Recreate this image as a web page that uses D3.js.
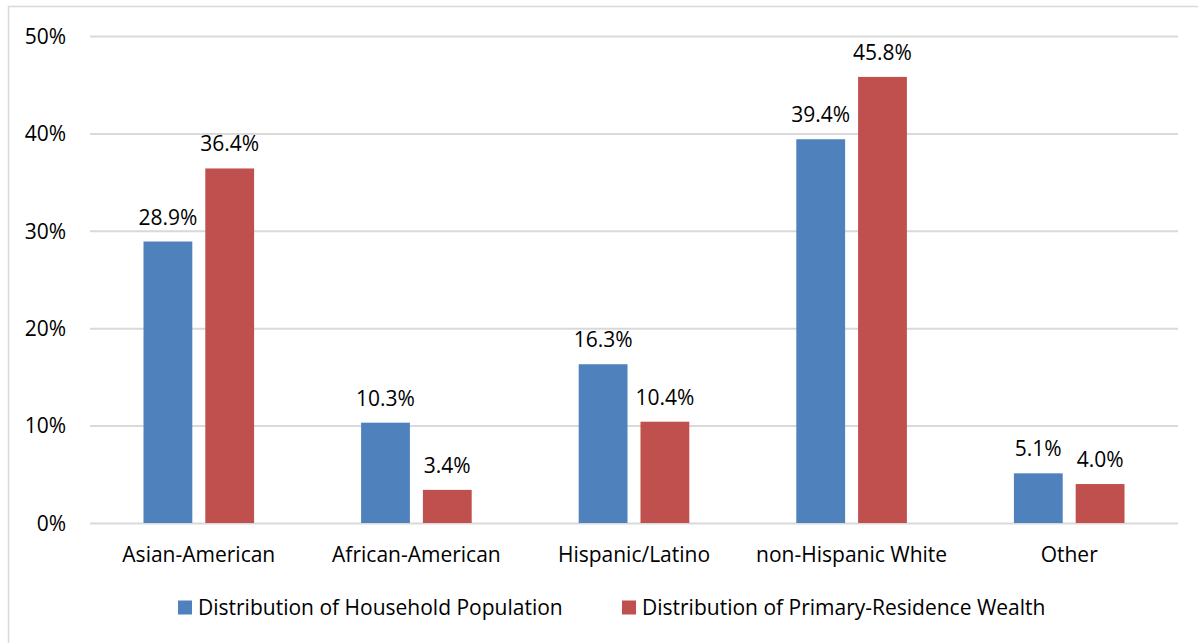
<!DOCTYPE html>
<html>
<head>
<meta charset="utf-8">
<script src="https://cdn.jsdelivr.net/npm/d3@7"></script>
<style>
  body { margin: 0; background: #fff; }
  text { font-family: "Open Sans", "Noto Sans", sans-serif; fill: #000; }
</style>
</head>
<body>
<div id="chart"></div>
<script>
const categories = ["Asian-American", "African-American", "Hispanic/Latino", "non-Hispanic White", "Other"];
const seriesNames = ["Distribution of Household Population", "Distribution of Primary-Residence Wealth"];
const household = [28.9, 10.3, 16.3, 39.4, 5.1];
const wealth = [36.4, 3.4, 10.4, 45.8, 4.0];
const yTicks = [0, 10, 20, 30, 40, 50];
const colors = ["#4F81BD", "#C0504D"];

const svg = d3.select("#chart")
    .append("svg")
        .attr("width", 1198)
        .attr("height", 643);

// frame, only left and top edges show in the picture
svg.append("rect")
    .attr("x", 8.5)
    .attr("y", 6.5)
    .attr("width", 1300)
    .attr("height", 800)
    .attr("fill", "none")
    .attr("stroke", "#d9d9d9")
    .attr("stroke-width", 1.5);

const plotLeft = 90, plotRight = 1178, plotTop = 36, plotBottom = 523;

const x0 = d3.scaleBand()
    .domain(categories)
    .range([plotLeft, plotRight]);

const x1 = d3.scaleBand()
    .domain(seriesNames)
    .range([53.5, x0.bandwidth() - 53.5])
    .paddingInner(0.21);

const y = d3.scaleLinear()
    .domain([0, 50])
    .range([plotBottom, plotTop]);

// gridlines + tick labels
const yAxis = svg.append("g")
    .attr("transform", `translate(${plotLeft},0)`)
    .call(d3.axisLeft(y).tickValues(yTicks).tickSize(-(plotRight - plotLeft)).tickFormat(d => d + "%"));
yAxis.select(".domain").remove();
yAxis.selectAll("line").attr("stroke", "#d9d9d9").attr("stroke-width", 2);
yAxis.selectAll("text")
    .attr("x", -24)
    .attr("dy", "0.35em")
    .style("font-size", "21px")
    .style("font-family", "'Open Sans', sans-serif")
    .attr("fill", "#000");

const rows = categories.map((c, i) => ({
    cat: c,
    vals: [
        { name: seriesNames[0], v: household[i], color: colors[0] },
        { name: seriesNames[1], v: wealth[i], color: colors[1] }
    ]
}));

const groups = svg.selectAll("g.cat")
    .data(rows)
    .enter()
    .append("g")
        .attr("class", "cat")
        .attr("transform", d => `translate(${x0(d.cat)},0)`);

groups.selectAll("rect")
    .data(d => d.vals)
    .enter()
    .append("rect")
        .attr("x", d => x1(d.name))
        .attr("y", d => y(d.v))
        .attr("width", x1.bandwidth())
        .attr("height", d => y(0) - y(d.v))
        .attr("fill", d => d.color);

groups.selectAll("text.val")
    .data(d => d.vals)
    .enter()
    .append("text")
        .attr("class", "val")
        .attr("x", d => x1(d.name) + x1.bandwidth() / 2)
        .attr("y", d => y(d.v) - 17)
        .attr("text-anchor", "middle")
        .style("font-size", "21px")
        .text(d => d.v.toFixed(1) + "%");

// category labels
svg.append("g")
    .selectAll("text")
    .data(categories)
    .enter()
    .append("text")
        .attr("x", d => x0(d) + x0.bandwidth() / 2)
        .attr("y", 562)
        .attr("text-anchor", "middle")
        .style("font-size", "21px")
        .text(d => d);

// legend
const legendX = [178, 622];
const legend = svg.append("g");
seriesNames.forEach((s, i) => {
    legend.append("rect")
        .attr("x", legendX[i])
        .attr("y", 600.5)
        .attr("width", 14)
        .attr("height", 14)
        .attr("fill", colors[i]);
    legend.append("text")
        .attr("x", legendX[i] + 20)
        .attr("y", 615)
        .style("font-size", "21px")
        .text(s);
});
</script>
</body>
</html>
